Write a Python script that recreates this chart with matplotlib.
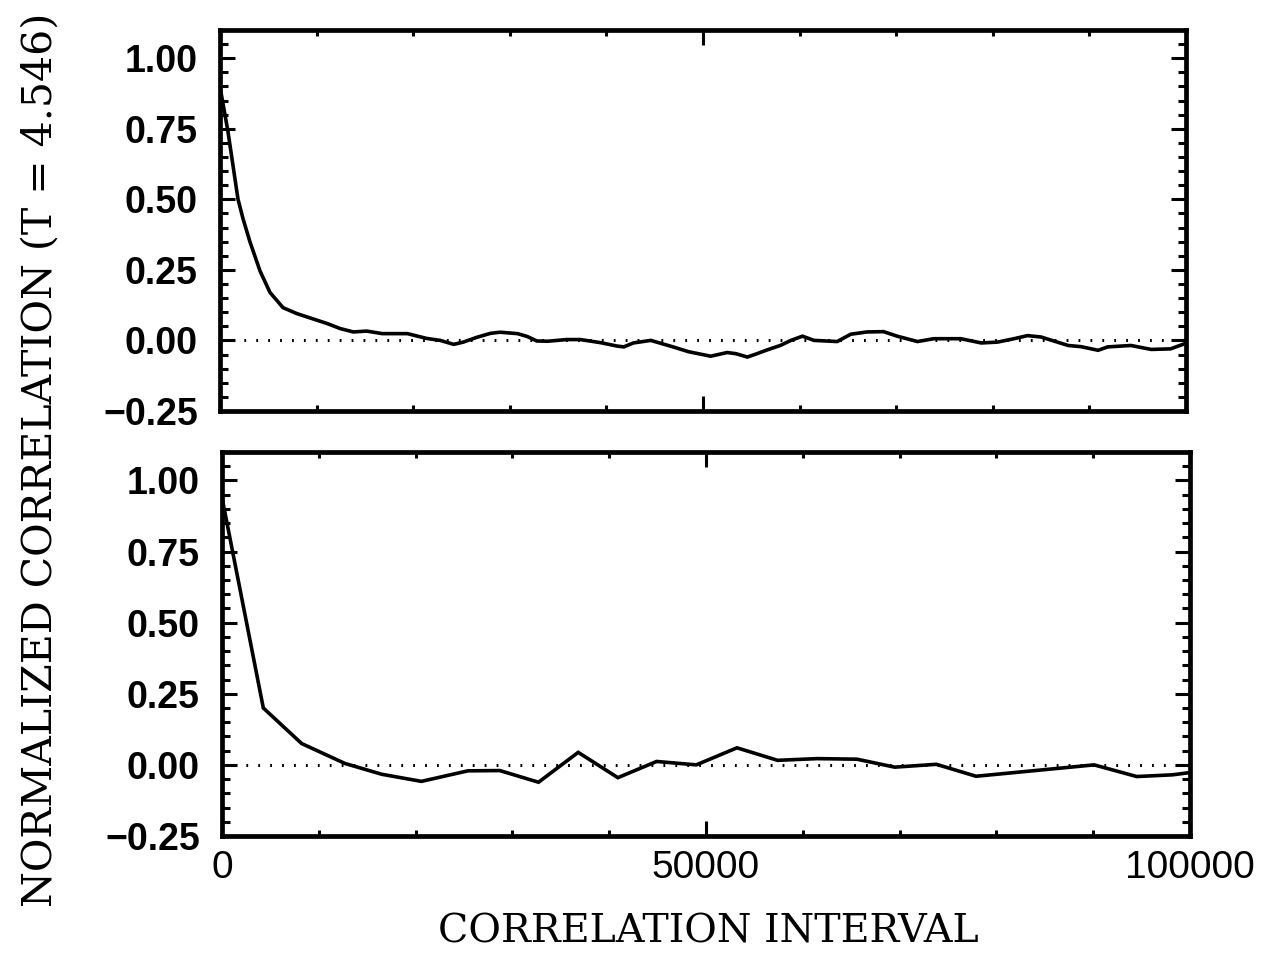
import numpy as np
import matplotlib
matplotlib.use("Agg")
import matplotlib.pyplot as plt
from matplotlib.ticker import MultipleLocator, FixedLocator

# upper panel: fine-sampled correlation
top_x = [0, 830, 1350, 1870, 2400, 3100, 4150, 5180, 6530, 7960, 11080, 12440,
         13800, 15200, 16800, 19400, 21400, 22800, 24200, 25200, 26600, 28000,
         29000, 30800, 31800, 32800, 33900, 35900, 37300, 39400, 41100, 41800,
         42800, 44600, 46900, 48500, 50800, 52500, 53400, 54600, 55600, 56700,
         58000, 59100, 60300, 61500, 63900, 65300, 67000, 68700, 70100, 72200,
         73900, 76700, 78800, 80500, 82200, 83600, 85000, 87800, 89100, 90900,
         91900, 94300, 96400, 98400, 100000]
top_y = [0.90, 0.74, 0.62, 0.50, 0.43, 0.35, 0.246, 0.17, 0.116, 0.095, 0.06,
         0.042, 0.03, 0.033, 0.024, 0.024, 0.007, 0.0, -0.014, -0.006, 0.011,
         0.025, 0.029, 0.024, 0.014, -0.002, -0.003, 0.003, 0.003, -0.008, -0.02,
         -0.023, -0.009, 0.0, -0.023, -0.04, -0.056, -0.043, -0.047, -0.059,
         -0.047, -0.033, -0.018, 0.0, 0.015, 0.0, -0.004, 0.022, 0.03, 0.031,
         0.015, -0.004, 0.006, 0.006, -0.009, -0.006, 0.006, 0.017, 0.012,
         -0.018, -0.022, -0.035, -0.023, -0.018, -0.032, -0.03, -0.01]

# lower panel: coarse-sampled correlation
bot_x = [0, 4270, 8230, 12700, 16500, 20600, 25400, 28700, 32700, 36800, 40900,
         44900, 49000, 53200, 57400, 61500, 65600, 69500, 73800, 77900, 90100,
         94500, 98200, 100000]
bot_y = [0.94, 0.20, 0.075, 0.005, -0.033, -0.058, -0.021, -0.02, -0.061, 0.044,
         -0.045, 0.012, 0.0, 0.06, 0.016, 0.022, 0.02, -0.008, 0.002, -0.04, 0.0,
         -0.041, -0.035, -0.027]

xticks = [0, 50000, 100000]
yticks = [-0.25, 0.0, 0.25, 0.5, 0.75, 1.0]

fig = plt.figure(figsize=(12.78, 9.64), dpi=100)
ax1 = fig.add_axes([0.1721, 0.5737, 0.7559, 0.3952])
ax2 = fig.add_axes([0.1737, 0.1328, 0.7574, 0.3983])

for ax, xs, ys in [(ax1, top_x, top_y), (ax2, bot_x, bot_y)]:
    ax.plot(xs, ys, color="black", lw=2.6, solid_joinstyle="miter")
    ax.axhline(0, color="black", lw=2.2, linestyle=(0, (0.6, 3.3)))
    ax.set_xlim(0, 100000)
    ax.set_ylim(-0.25, 1.1)
    ax.xaxis.set_major_locator(FixedLocator(xticks))
    ax.xaxis.set_minor_locator(MultipleLocator(10000))
    ax.yaxis.set_major_locator(FixedLocator(yticks))
    ax.yaxis.set_minor_locator(MultipleLocator(0.05))
    ax.tick_params(which="both", direction="in", top=True, right=True, width=2.2)
    ax.tick_params(axis="x", which="major", length=11)
    ax.tick_params(axis="x", which="minor", length=4.5)
    ax.tick_params(axis="y", which="major", length=11)
    ax.tick_params(axis="y", which="minor", length=6)
    ax.tick_params(axis="y", which="major", pad=16, labelsize=27)
    ax.tick_params(axis="x", which="major", pad=10, labelsize=28)
    for s in ax.spines.values():
        s.set_linewidth(3.4)
    ax.set_yticklabels(["\u22120.25", "0.00", "0.25", "0.50", "0.75", "1.00"],
                       family="Liberation Sans", fontweight="bold")

ax1.set_xticklabels([])
ax2.set_xticklabels(["0", "50000", "100000"], family="Liberation Sans")

fig.text(0.032, 0.523, "NORMALIZED CORRELATION (T = 4.546)", rotation=90,
         ha="center", va="center", family="DejaVu Serif", fontsize=29.5)
fig.text(0.554, 0.033, "CORRELATION INTERVAL", ha="center", va="center",
         family="DejaVu Serif", fontsize=28.5)

fig.savefig("out.png", dpi=100, facecolor="white")
